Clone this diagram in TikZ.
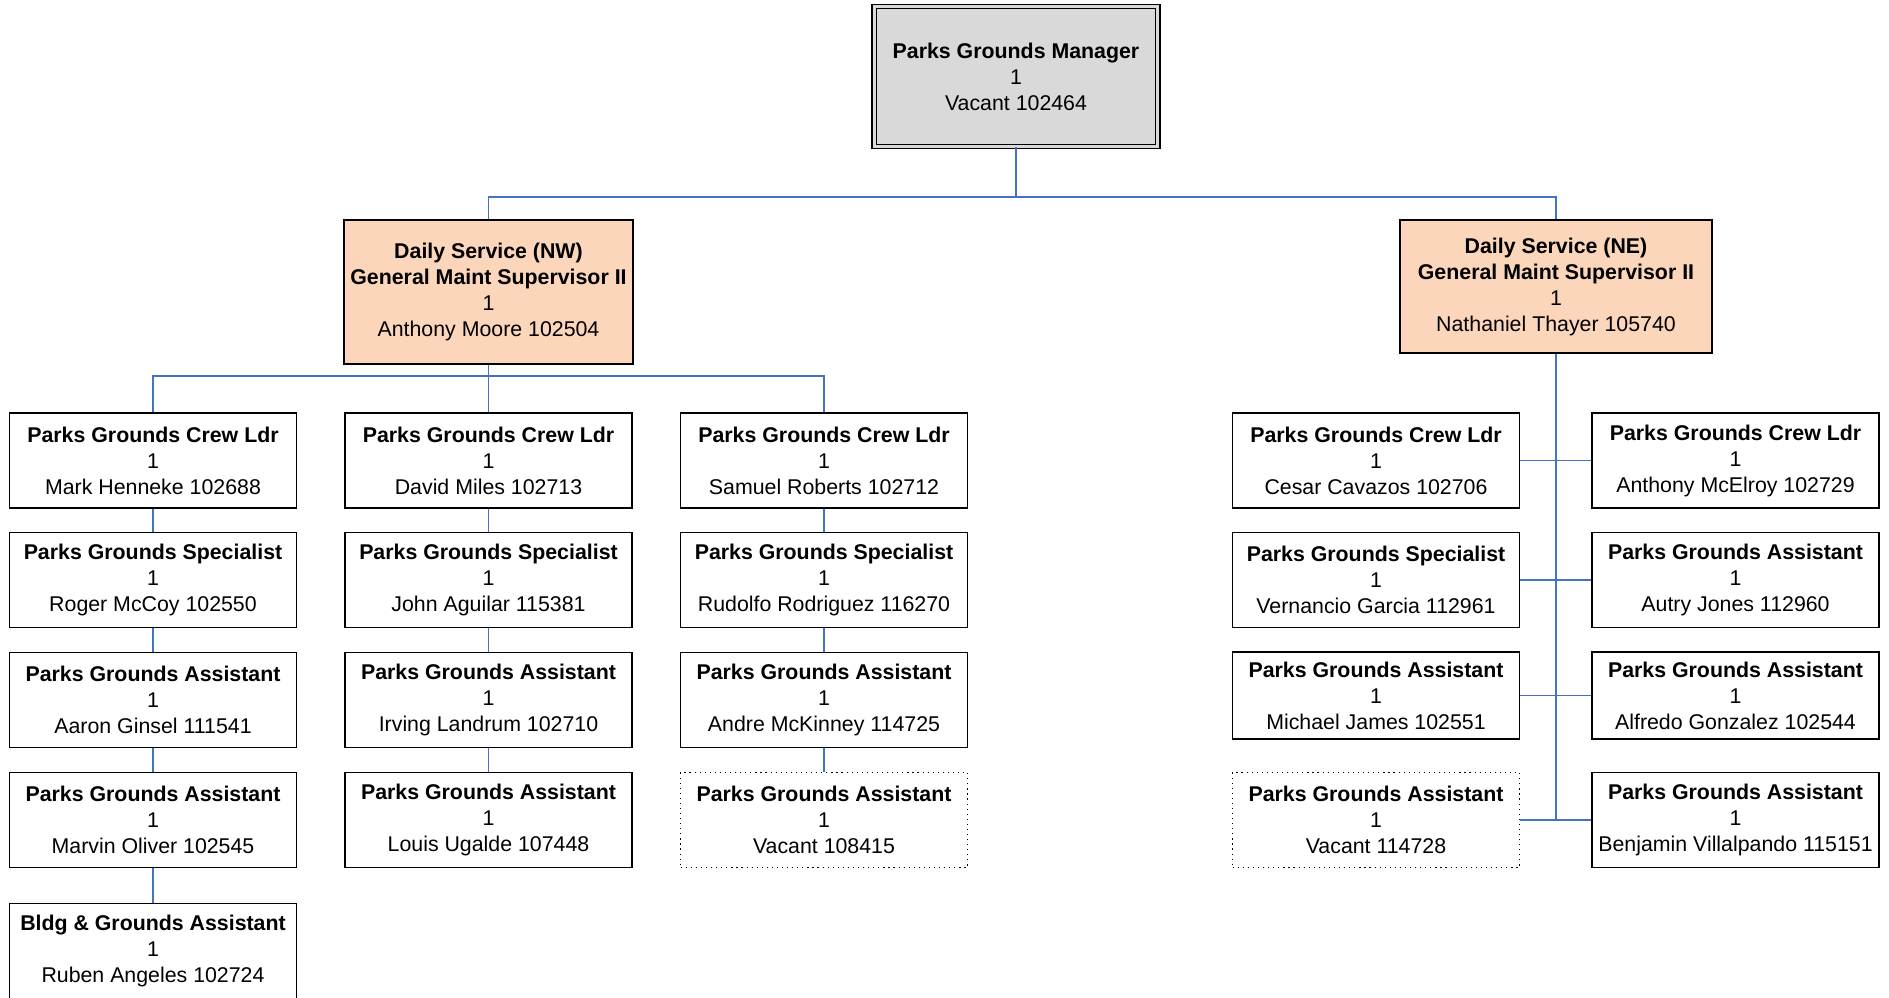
\documentclass[tikz,border=0pt]{standalone}
\usepackage{fontspec}
\setmainfont{Liberation Sans}
\definecolor{conn}{RGB}{68,114,196}
\definecolor{topfill}{RGB}{217,217,217}
\definecolor{supfill}{RGB}{251,214,186}
\tikzset{
  box/.style={draw=black, line width=1.1pt, fill=white, align=center,
    minimum width=215pt, minimum height=71.5pt, inner sep=0pt,
    font=\fontsize{16}{19.5}\selectfont},
  vacbox/.style={box, draw=black, line width=0.9pt, dash pattern=on 0.9pt off 2.9pt},
  shortbox/.style={box, minimum height=65pt},
  conline/.style={draw=conn, line width=1.1pt},
}
\begin{document}
\begin{tikzpicture}[x=0.75pt,y=-0.75pt]
\useasboundingbox (0,0) rectangle (1889,997);
% top
\node[box, fill=topfill, minimum width=212.6pt, minimum height=105pt,
  double=topfill, double distance=2.6pt, line width=0.9pt] (top) at (1016,76.5)
  {\textbf{Parks Grounds Manager}\\1\\Vacant 102464};
% supervisors
\node[box, fill=supfill, minimum width=216.75pt, minimum height=108pt] (nw) at (488.5,292)
  {\textbf{Daily Service (NW)}\\\textbf{General Maint Supervisor II}\\1\\Anthony Moore 102504};
\node[box, fill=supfill, minimum width=234pt, minimum height=99.75pt] (ne) at (1556,286.5)
  {\textbf{Daily Service (NE)}\\\textbf{General Maint Supervisor II}\\1\\Nathaniel Thayer 105740};
% NW column 1
\node[box] (a1) at (153,460.5) {\textbf{Parks Grounds Crew Ldr}\\1\\Mark Henneke 102688};
\node[box] (a2) at (153,580) {\textbf{Parks Grounds Specialist}\\1\\Roger McCoy 102550};
\node[box] (a3) at (153,700) {\textbf{Parks Grounds Assistant}\\1\\Aaron Ginsel 111541};
\node[box] (a4) at (153,820) {\textbf{Parks Grounds Assistant}\\1\\Marvin Oliver 102545};
\node[box] (a5) at (153,951) {\textbf{Bldg \& Grounds Assistant}\\1\\Ruben Angeles 102724};
% NW column 2
\node[box] (b1) at (488.5,460.5) {\textbf{Parks Grounds Crew Ldr}\\1\\David Miles 102713};
\node[box] (b2) at (488.5,580) {\textbf{Parks Grounds Specialist}\\1\\John Aguilar 115381};
\node[box] (b3) at (488.5,700) {\textbf{Parks Grounds Assistant}\\1\\Irving Landrum 102710};
\node[box] (b4) at (488.5,820) {\textbf{Parks Grounds Assistant}\\1\\Louis Ugalde 107448};
% NW column 3
\node[box] (c1) at (824,460.5) {\textbf{Parks Grounds Crew Ldr}\\1\\Samuel Roberts 102712};
\node[box] (c2) at (824,580) {\textbf{Parks Grounds Specialist}\\1\\Rudolfo Rodriguez 116270};
\node[box] (c3) at (824,700) {\textbf{Parks Grounds Assistant}\\1\\Andre McKinney 114725};
\node[vacbox] (c4) at (824,820) {\textbf{Parks Grounds Assistant}\\1\\Vacant 108415};
% NE left
\node[box] (l1) at (1376,460.5) {\textbf{Parks Grounds Crew Ldr}\\1\\Cesar Cavazos 102706};
\node[box] (l2) at (1376,580) {\textbf{Parks Grounds Specialist}\\1\\Vernancio Garcia 112961};
\node[shortbox] (l3) at (1376,695.5) {\textbf{Parks Grounds Assistant}\\1\\Michael James 102551};
\node[vacbox] (l4) at (1376,820) {\textbf{Parks Grounds Assistant}\\1\\Vacant 114728};
% NE right
\node[box] (r1) at (1735.5,460.5) {\textbf{Parks Grounds Crew Ldr}\\1\\Anthony McElroy 102729};
\node[box] (r2) at (1735.5,580) {\textbf{Parks Grounds Assistant}\\1\\Autry Jones 112960};
\node[shortbox] (r3) at (1735.5,695.5) {\textbf{Parks Grounds Assistant}\\1\\Alfredo Gonzalez 102544};
\node[box] (r4) at (1735.5,820) {\textbf{Parks Grounds Assistant}\\1\\Benjamin Villalpando 115151};
% bus coordinates
\coordinate (bus1) at (0,197);
\coordinate (bus2) at (0,376);
% connectors
\draw[conline] (top.south) -- (top.south |- bus1) -| (nw.north);
\draw[conline] (top.south |- bus1) -| (ne.north);
\draw[conline] (nw.south) -- (b1.north);
\draw[conline] (a1.north) |- (c1.north |- bus2) -- (c1.north);
\draw[conline] (a1) -- (a2); \draw[conline] (a2) -- (a3);
\draw[conline] (a3) -- (a4); \draw[conline] (a4) -- (a5);
\draw[conline] (b1) -- (b2); \draw[conline] (b2) -- (b3); \draw[conline] (b3) -- (b4);
\draw[conline] (c1) -- (c2); \draw[conline] (c2) -- (c3); \draw[conline] (c3) -- (c4);
\draw[conline] (ne.south) -- (ne.south |- l4.east);
\draw[conline] (l1) -- (r1); \draw[conline] (l2) -- (r2);
\draw[conline] (l3) -- (r3); \draw[conline] (l4) -- (r4);
\end{tikzpicture}
\end{document}
